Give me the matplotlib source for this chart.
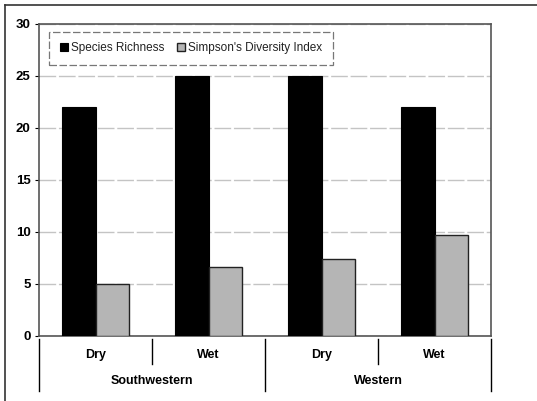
import matplotlib.pyplot as plt
import numpy as np
from matplotlib.lines import Line2D

plt.rcParams['font.family'] = ['Liberation Sans', 'DejaVu Sans']

# === Data ===
regions = ['Southwestern', 'Western']
seasons = ['Dry', 'Wet', 'Dry', 'Wet']
species_richness = [22, 25, 25, 22]
simpson_index = [5.0, 6.6, 7.4, 9.7]

# === Plot ===
fig = plt.figure(figsize=(5.37, 4.01), dpi=100)
ax = fig.add_axes([39 / 537, 65 / 401, 452 / 537, 312 / 401])

x = np.arange(len(seasons))
w = 0.3
ax.bar(x - w / 2, species_richness, w, color='black', edgecolor='black',
       linewidth=0.8, label='Species Richness', zorder=3)
ax.bar(x + w / 2, simpson_index, w, color='#b5b5b5', edgecolor='#222222',
       linewidth=1.0, label="Simpson's Diversity Index", zorder=3)

ax.set_xlim(-0.5, len(seasons) - 0.5)
ax.set_ylim(0, 30)
ax.set_yticks(range(0, 31, 5))
ax.yaxis.grid(True, color='#c4c4c4', linewidth=1.0, linestyle=(0, (12, 2)), zorder=0)
ax.set_xticks([])
ax.tick_params(axis='y', length=3, width=0.8, pad=3)
for lbl in ax.get_yticklabels():
    lbl.set_fontweight('bold')
    lbl.set_fontsize(9.5)
for s in ax.spines.values():
    s.set_color('#555555')
    s.set_linewidth(1.2)

# category labels and separators below the axis
trans = ax.get_xaxis_transform()
for i, s in enumerate(seasons):
    ax.text(i, -0.06, s, transform=trans, ha='center', va='center',
            fontsize=9, fontweight='bold')
for b in [0.5, 2.5]:
    ax.add_line(Line2D([b, b], [-0.01, -0.09], transform=trans, color='black',
                       linewidth=1.0, clip_on=False))
for b in [-0.5, 1.5, 3.5]:
    ax.add_line(Line2D([b, b], [-0.01, -0.175], transform=trans, color='black',
                       linewidth=1.0, clip_on=False))
for j, r in enumerate(regions):
    ax.text(2 * j + 0.5, -0.145, r, transform=trans, ha='center', va='center',
            fontsize=9, fontweight='bold')

leg = ax.legend(loc='upper left', ncol=2, fontsize=8.5, frameon=True,
                fancybox=False, handlelength=0.7, handleheight=0.7,
                handletextpad=0.3, columnspacing=1.0,
                bbox_to_anchor=(0.022, 0.975), borderpad=0.9, borderaxespad=0)
leg.get_frame().set_edgecolor('#555555')
leg.get_frame().set_linewidth(0.9)
leg.get_frame().set_linestyle((0, (6, 2)))
for t in leg.get_texts():
    t.set_color('#222222')

# figure border (top and left)
fig.add_artist(Line2D([5 / 537, 1], [1 - 5 / 401, 1 - 5 / 401],
                      transform=fig.transFigure, color='#333333', linewidth=1.2))
fig.add_artist(Line2D([5 / 537, 5 / 537], [0, 1 - 5 / 401],
                      transform=fig.transFigure, color='#333333', linewidth=1.2))

plt.savefig('out.png', dpi=100)
